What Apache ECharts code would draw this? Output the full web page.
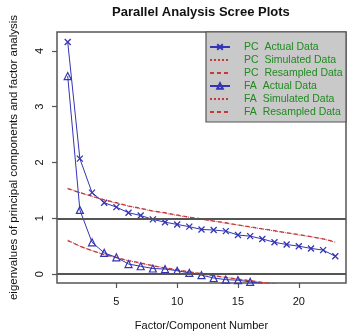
<!DOCTYPE html>
<html>
<head>
<meta charset="utf-8">
<script src="https://cdn.jsdelivr.net/npm/echarts@6/dist/echarts.min.js"></script>
<style>html,body{margin:0;padding:0;background:#fff}#c{width:356px;height:336px}</style>
</head>
<body>
<div id="c"></div>
<script>
var factors = [1,2,3,4,5,6,7,8,9,10,11,12,13,14,15,16,17,18,19,20,21,22,23];
var pcActual = [4.16,2.07,1.46,1.28,1.20,1.10,1.05,0.98,0.93,0.89,0.85,0.80,0.79,0.77,0.70,0.68,0.63,0.57,0.53,0.50,0.46,0.43,0.32];
var pcSimulated = [1.54,1.46,1.39,1.33,1.27,1.22,1.17,1.13,1.09,1.05,1.02,0.98,0.95,0.91,0.88,0.84,0.81,0.77,0.74,0.70,0.67,0.63,0.57];
var pcResampled = [1.53,1.46,1.40,1.33,1.28,1.22,1.18,1.13,1.10,1.06,1.02,0.99,0.95,0.92,0.88,0.85,0.81,0.78,0.74,0.71,0.67,0.63,0.58];
var faActual = [3.55,1.15,0.57,0.38,0.30,0.18,0.14,0.10,0.09,0.06,0.02,-0.02,-0.07,-0.10,-0.11,-0.14,-0.17];
var faSimulated = [0.61,0.50,0.42,0.35,0.29,0.24,0.19,0.15,0.11,0.07,0.04,0.00,-0.03,-0.06,-0.09,-0.12,-0.15,-0.18,-0.21,-0.24,-0.27,-0.30,-0.34];
var faResampled = [0.60,0.50,0.42,0.35,0.30,0.24,0.20,0.15,0.11,0.08,0.04,0.01,-0.03,-0.06,-0.09,-0.12,-0.15,-0.18,-0.21,-0.24,-0.27,-0.30,-0.33];
var xTicks = [5,10,15,20];
var yTicks = [0,1,2,3,4];
var refLines = [0,1];
var legendNames = ['PC  Actual Data','PC  Simulated Data','PC  Resampled Data','FA  Actual Data','FA  Simulated Data','FA  Resampled Data'];
var legendHasMarker = [true,false,false,true,false,false];

function pairs(vals){ return vals.map(function(v,i){ return [factors[i], v]; }); }

var BLUE = '#3434b4', RED = '#c43a3a', GRAY = '#555555', GREEN = '#1f8a1f';
var FONT = 'Liberation Sans, Arial, sans-serif';
var xPath = 'path://M0,0L10,10M10,0L0,10';

var chart = echarts.init(document.getElementById('c'), null, {renderer:'canvas'});
chart.setOption({
  animation: false,
  title: {
    text: 'Parallel Analysis Scree Plots',
    left: 107, top: 1,
    textStyle: {fontFamily: FONT, fontSize: 13, fontWeight: 'bold', color: '#111'}
  },
  graphic: [{
    type: 'rect', z: 50, silent: true,
    shape: {x: 206, y: 32, width: 140, height: 90},
    style: {fill: '#c9c9c9', stroke: GRAY, lineWidth: 1.2}
  }],
  legend: {
    orient: 'vertical', left: 206, top: 33, z: 60,
    padding: [8, 0, 0, 3],
    itemWidth: 20, itemHeight: 7, itemGap: 1.0,
    data: legendNames.map(function(n, i){
      return legendHasMarker[i] ? {name: n} : {name: n, itemStyle: {opacity: 0}};
    }),
    textStyle: {fontFamily: FONT, fontSize: 10.5, lineHeight: 12, color: GREEN, padding: [0,0,0,9]}
  },
  grid: {left: 55, right: 10, top: 32, bottom: 53, show: true, borderColor: GRAY, borderWidth: 1.5, backgroundColor: 'transparent'},
  xAxis: {
    type: 'value', min: 0.12, max: 23.88,
    name: 'Factor/Component Number', nameLocation: 'middle', nameGap: 37,
    nameTextStyle: {fontFamily: FONT, fontSize: 11, color: '#111'},
    axisLine: {show: false, onZero: false},
    axisTick: {show: true, customValues: xTicks, length: 5, lineStyle: {color: GRAY, width: 1.2}},
    axisLabel: {customValues: xTicks, margin: 13, fontFamily: FONT, fontSize: 11, color: '#111'},
    splitLine: {show: false}
  },
  yAxis: {
    type: 'value', min: -0.16, max: 4.34,
    name: 'eigenvalues of principal components and factor analysis', nameLocation: 'middle', nameGap: 37, nameRotate: 90,
    nameTextStyle: {fontFamily: FONT, fontSize: 11.5, color: '#111'},
    axisLine: {show: false, onZero: false},
    axisTick: {show: true, customValues: yTicks, length: 5, lineStyle: {color: GRAY, width: 1.2}},
    axisLabel: {customValues: yTicks, rotate: 90, margin: 12, fontFamily: FONT, fontSize: 11, color: '#111'},
    splitLine: {show: false}
  },
  series: [
    {name: legendNames[0], type: 'line', data: pairs(pcActual), symbol: xPath, symbolSize: 6, showAllSymbol: true,
     itemStyle: {color: 'rgba(0,0,0,0)', borderColor: BLUE, borderWidth: 1.3},
     lineStyle: {color: BLUE, width: 1}, z: 4,
     markLine: {silent: true, symbol: 'none', label: {show: false}, lineStyle: {color: GRAY, width: 1.8, type: 'solid'},
       data: refLines.map(function(v){ return {yAxis: v}; })}},
    {name: legendNames[1], type: 'line', data: pairs(pcSimulated), symbol: 'none',
     itemStyle: {color: RED}, lineStyle: {color: RED, width: 1, type: 'dotted'}, z: 3},
    {name: legendNames[2], type: 'line', data: pairs(pcResampled), symbol: 'none',
     itemStyle: {color: RED}, lineStyle: {color: RED, width: 1.3, type: [4,3]}, z: 3},
    {name: legendNames[3], type: 'line', data: pairs(faActual), symbol: 'triangle', symbolSize: 7, showAllSymbol: true,
     itemStyle: {color: 'rgba(0,0,0,0)', borderColor: BLUE, borderWidth: 1.2},
     lineStyle: {color: BLUE, width: 1}, z: 4},
    {name: legendNames[4], type: 'line', data: pairs(faSimulated), symbol: 'none',
     itemStyle: {color: RED}, lineStyle: {color: RED, width: 1, type: 'dotted'}, z: 3},
    {name: legendNames[5], type: 'line', data: pairs(faResampled), symbol: 'none',
     itemStyle: {color: RED}, lineStyle: {color: RED, width: 1.3, type: [4,3]}, z: 3}
  ]
});
</script>
</body>
</html>
